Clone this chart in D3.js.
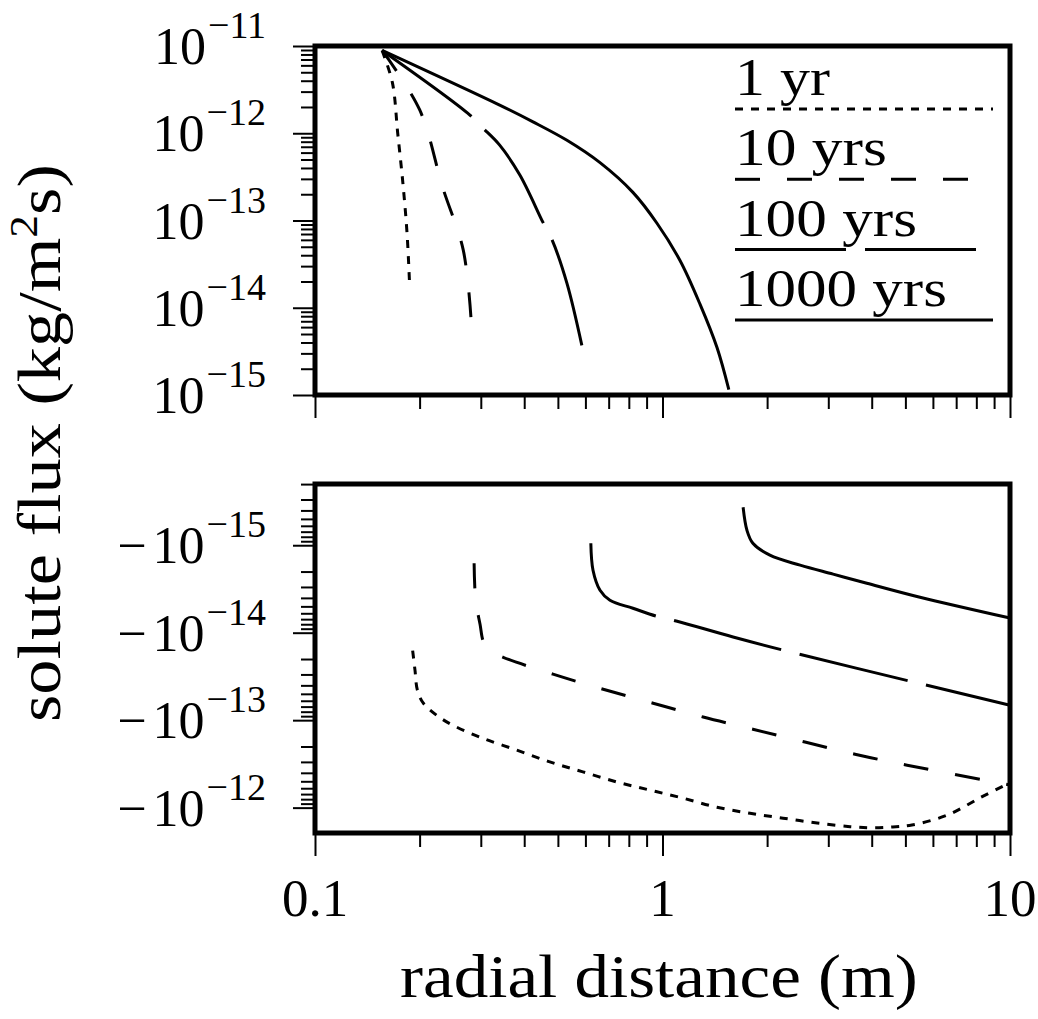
<!DOCTYPE html>
<html>
<head>
<meta charset="utf-8">
<script src="https://cdn.jsdelivr.net/npm/d3@7"></script>
<style>
  body { margin: 0; background: #fff; }
  text { font-family: "Liberation Serif", "Times New Roman", serif; fill: #000; }
</style>
</head>
<body>
<div id="chart"></div>
<script>
// values: radial distance (m) vs solute flux (kg/m^2 s)
var seriesNames = ["1 yr", "10 yrs", "100 yrs", "1000 yrs"];

// upper panel (positive flux)
var r1yrTop = [0.156, 0.167, 0.173, 0.179, 0.184, 0.187];
var f1yrTop = [8.9e-12, 3.8e-12, 1.0e-12, 2.7e-13, 7.2e-14, 2.0e-14];

var r10yrTop = [0.156, 0.200, 0.233, 0.267, 0.281];
var f10yrTop = [8.9e-12, 1.86e-12, 2.4e-13, 4.6e-14, 7.8e-15];

var r100yrTop = [0.156, 0.275, 0.304, 0.340, 0.389, 0.453, 0.481, 0.531, 0.586];
var f100yrTop = [8.9e-12, 1.70e-12, 1.15e-12, 7.3e-13, 3.3e-13, 9.5e-14, 6.0e-14, 1.9e-14, 3.7e-15];

var r1000yrTop = [0.156, 0.340, 0.424, 0.531, 0.661, 0.822, 0.964, 1.122, 1.282, 1.435, 1.552];
var f1000yrTop = [8.9e-12, 2.1e-12, 1.35e-12, 8.3e-13, 4.6e-13, 2.1e-13, 9.3e-14, 3.5e-14, 1.1e-14, 3.5e-15, 1.15e-15];

// lower panel (negative flux)
var r1yrBot = [0.191, 0.194, 0.197, 0.205, 0.224, 0.249, 0.304, 0.381, 0.474, 0.590, 0.740, 0.920,
               1.146, 1.435, 1.786, 2.223, 2.786, 3.467, 4.0, 4.6, 5.22, 6.59, 8.26, 10];
var f1yrBot = [-1.6e-14, -2.7e-14, -4.5e-14, -6.4e-14, -8.8e-14, -1.14e-13, -1.61e-13, -2.2e-13, -3.0e-13,
               -3.9e-13, -5.1e-13, -6.3e-13, -7.8e-13, -9.9e-13, -1.16e-12, -1.32e-12, -1.5e-12, -1.65e-12,
               -1.70e-12, -1.66e-12, -1.58e-12, -1.22e-12, -7.6e-13, -5.2e-13];

var r10yrBot = [0.287, 0.290, 0.2985, 0.306, 0.323, 0.348, 0.484, 0.675, 0.940, 1.309, 1.820, 2.570, 3.581, 5.058, 10];
var f10yrBot = [-1.61e-15, -4.25e-15, -8.0e-15, -1.29e-14, -1.63e-14, -1.91e-14, -2.98e-14, -4.43e-14,
                -6.4e-14, -9.2e-14, -1.27e-13, -1.78e-13, -2.45e-13, -3.27e-13, -5.5e-13];

var r100yrBot = [0.622, 0.631, 0.661, 0.706, 0.822, 0.964, 1.102, 1.596, 2.223, 5.152, 10];
var f100yrBot = [-9.5e-16, -1.93e-15, -3.27e-15, -4.26e-15, -5.25e-15, -6.5e-15, -7.4e-15, -1.12e-14,
                 -1.58e-14, -3.58e-14, -6.75e-14];

var r1000yrBot = [1.706, 1.750, 1.820, 2.037, 2.489, 3.097, 3.873, 5.508, 10];
var f1000yrBot = [-3.68e-16, -6.75e-16, -9.5e-16, -1.30e-15, -1.69e-15, -2.14e-15, -2.72e-15, -3.93e-15, -6.8e-15];

var xTickLabels = ["0.1", "1", "10"];
var topExponents = ["11", "12", "13", "14", "15"];
var botExponents = ["15", "14", "13", "12"];

var svgWidth = 1038;
var svgHeight = 1019;

var svg = d3.select("#chart").append("svg")
    .attr("width", svgWidth)
    .attr("height", svgHeight);

var left = 315, right = 1010;
var top1 = 46, bottom1 = 395;
var top2 = 484, bottom2 = 833;

var x = d3.scaleLog().domain([0.1, 10]).range([left, right]);
var yTop = d3.scaleLog().domain([1e-11, 1e-15]).range([top1, bottom1]);
var yBot = d3.scaleLog().domain([Math.pow(10, -15.7), Math.pow(10, -11.71)]).range([top2, bottom2]);

var dashes = ["8,8", "25,27", "111,19", null];

function isDecade(v) {
    var l = Math.log10(Math.abs(v));
    return Math.abs(l - Math.round(l)) < 1e-6;
}

function zip(r, f) {
    return r.map(function (d, i) { return [d, f[i]]; });
}

// stretch a text along its own direction so it spans `len` px (the original face is wider than Times)
function fitText(g, t, len, transform) {
    var w = t.node().getComputedTextLength();
    g.attr("transform", transform + " scale(" + (len / w) + ",1)");
}

var topSeries = [zip(r1yrTop, f1yrTop), zip(r10yrTop, f10yrTop), zip(r100yrTop, f100yrTop), zip(r1000yrTop, f1000yrTop)];
var botSeries = [zip(r1yrBot, f1yrBot), zip(r10yrBot, f10yrBot), zip(r100yrBot, f100yrBot), zip(r1000yrBot, f1000yrBot)];

// axes: minor ticks short, decades long
function drawAxes(y, yTop0, yBottom0) {
    var yt = y.ticks();
    var xt = x.ticks();
    [[yt.filter(function (d) { return !isDecade(d); }), 14], [yt.filter(isDecade), 22]].forEach(function (p) {
        var g = svg.append("g")
            .attr("transform", "translate(" + left + ",0)")
            .call(d3.axisLeft(y).tickValues(p[0]).tickSize(p[1]).tickFormat(""));
        g.select(".domain").remove();
        g.selectAll("line").attr("stroke", "#000").attr("stroke-width", 2);
    });
    [[xt.filter(function (d) { return !isDecade(d); }), 14], [xt.filter(isDecade), 23]].forEach(function (p) {
        var g = svg.append("g")
            .attr("transform", "translate(0," + yBottom0 + ")")
            .call(d3.axisBottom(x).tickValues(p[0]).tickSize(p[1]).tickFormat(""));
        g.select(".domain").remove();
        g.selectAll("line").attr("stroke", "#000").attr("stroke-width", 2);
    });
    svg.append("rect")
        .attr("x", left)
        .attr("y", yTop0)
        .attr("width", right - left)
        .attr("height", yBottom0 - yTop0)
        .attr("fill", "none")
        .attr("stroke", "#000")
        .attr("stroke-width", 5);
}

drawAxes(yTop, top1, bottom1);
drawAxes(yBot, top2, bottom2);

// curves
var lineTop = d3.line()
    .x(function (d) { return x(d[0]); })
    .y(function (d) { return yTop(d[1]); })
    .curve(d3.curveCatmullRom);
var lineBot = d3.line()
    .x(function (d) { return x(d[0]); })
    .y(function (d) { return yBot(-d[1]); })
    .curve(d3.curveCatmullRom);

[[topSeries, lineTop], [botSeries, lineBot]].forEach(function (p) {
    svg.append("g").selectAll("path")
        .data(p[0])
        .enter()
        .append("path")
        .attr("d", p[1])
        .attr("fill", "none")
        .attr("stroke", "#000")
        .attr("stroke-width", 3)
        .attr("stroke-dasharray", function (d, i) { return dashes[i]; });
});

// y tick labels
function yLabel(yPos, exp, negative) {
    var t = svg.append("text")
        .attr("x", 266)
        .attr("y", yPos + 18)
        .attr("text-anchor", "end")
        .attr("font-size", 52);
    if (negative) {
        t.append("tspan").text("\u2212");
        t.append("tspan").attr("dx", 6).text("10");
    } else {
        t.append("tspan").text("10");
    }
    t.append("tspan")
        .attr("dx", 2)
        .attr("dy", -26)
        .attr("font-size", 38)
        .text("\u2212" + exp);
}
topExponents.forEach(function (e) { yLabel(yTop(Math.pow(10, -e)), e, false); });
botExponents.forEach(function (e) { yLabel(yBot(Math.pow(10, -e)), e, true); });

// x tick labels
svg.append("g").selectAll("text")
    .data(xTickLabels)
    .enter()
    .append("text")
    .attr("x", function (d) { return x(+d); })
    .attr("y", 916)
    .attr("text-anchor", "middle")
    .attr("font-size", 53)
    .text(function (d) { return d; });

// axis titles
var xg = svg.append("g");
var xt = xg.append("text")
    .attr("font-size", 62)
    .text("radial distance (m)");
fitText(xg, xt, 518, "translate(400,997)");

var yg = svg.append("g");
var ytt = yg.append("text")
    .attr("font-size", 62);
ytt.append("tspan").text("solute flux (kg/m");
ytt.append("tspan").attr("dy", -23).attr("font-size", 40).text("2");
ytt.append("tspan").attr("dy", 23).text("s)");
fitText(yg, ytt, 558, "translate(60,722) rotate(-90)");

// legend
var legendWidths = [95, 152, 182, 212];
seriesNames.forEach(function (name, i) {
    var ly = 109 + i * 70.3;
    var lg = svg.append("g");
    var lt = lg.append("text")
        .attr("font-size", 52)
        .text(name);
    fitText(lg, lt, legendWidths[i], "translate(735," + (ly - 14) + ")");
    svg.append("line")
        .attr("x1", 735)
        .attr("x2", 993)
        .attr("y1", ly)
        .attr("y2", ly)
        .attr("stroke", "#000")
        .attr("stroke-width", 3)
        .attr("stroke-dasharray", dashes[i]);
});
</script>
</body>
</html>
